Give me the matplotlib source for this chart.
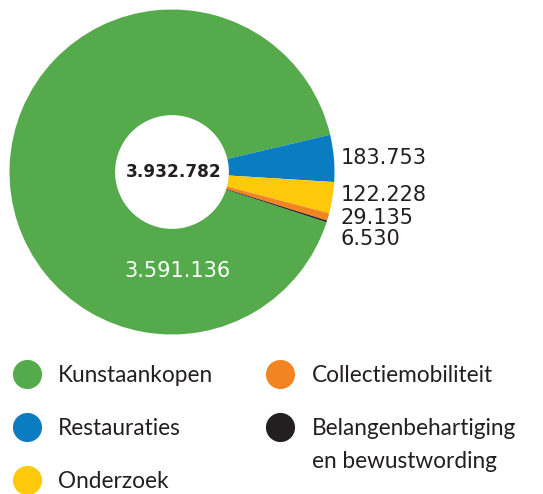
import matplotlib
matplotlib.use("Agg")
import matplotlib.pyplot as plt

categories = ["Kunstaankopen", "Restauraties", "Onderzoek", "Collectiemobiliteit",
              "Belangenbehartiging\nen bewustwording"]
values = [3591136, 183753, 122228, 29135, 6530]
colors = ["#55AA4B", "#0A7CC2", "#FFC90B", "#F28522", "#231F20"]
total = sum(values)


def fmt(v):
    return f"{v:,}".replace(",", ".")


W, H = 543, 494
fig = plt.figure(figsize=(W / 100, H / 100), dpi=100)
ax = fig.add_axes([0, 0, 1, 1])

cx, cy, R = 172, H - 172, 162.5
ax.pie(values, colors=colors, startangle=-18, counterclock=False,
       radius=R, center=(cx, cy),
       wedgeprops=dict(width=R * 0.65, linewidth=0))
ax.set_xlim(0, W)
ax.set_ylim(0, H)
ax.set_aspect("equal")
ax.axis("off")

txt = "#231F20"
# centre total
ax.text(174, H - 177, fmt(total), ha="center", va="baseline",
        fontsize=12.2, fontweight="bold", color=txt, family="DejaVu Sans")
# big slice label
ax.text(178, H - 277, fmt(values[0]), ha="center", va="baseline",
        fontsize=15, color="white", family="DejaVu Sans")
# small slice labels
label_base = [164, 201, 224, 245]
for v, yb in zip(values[1:], label_base):
    ax.text(341, H - yb, fmt(v), ha="left", va="baseline",
            fontsize=15, color=txt, family="DejaVu Sans")

# legend
leg_pos = [(27, 374, 58, 382), (27, 427, 58, 435), (27, 480, 58, 488),
           (280, 374, 312, 382), (280, 427, 312, 435)]
line_gap = 33
for cat, col, (dx, dy, tx, ty) in zip(categories, colors, leg_pos):
    ax.scatter([dx], [H - dy], s=440, color=col, linewidths=0, clip_on=False)
    for i, line in enumerate(cat.split("\n")):
        ax.text(tx, H - ty - i * line_gap, line, ha="left", va="baseline",
                fontsize=16.3, color=txt, family="Lato")

fig.savefig("out.png", dpi=100)
